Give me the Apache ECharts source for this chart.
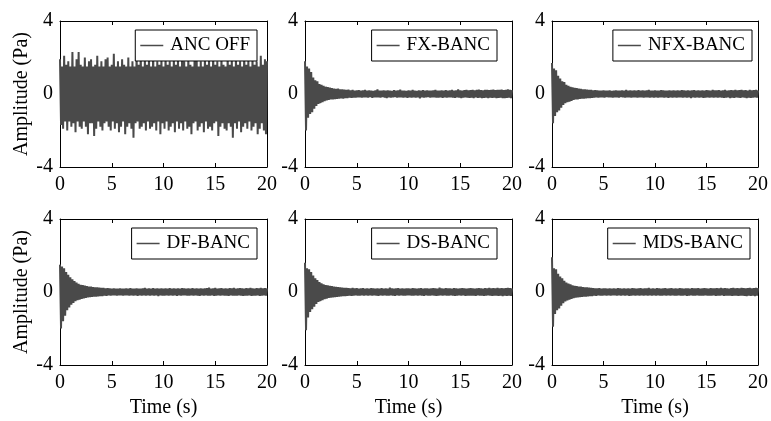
<!DOCTYPE html>
<html><head><meta charset="utf-8">
<script src="https://cdn.jsdelivr.net/npm/echarts@6/dist/echarts.min.js"></script>
<style>html,body{margin:0;padding:0;background:#fff}#c{width:771px;height:421px}</style>
</head><body><div id="c"></div>
<script>
// ---- data ----
const time = [
0,0.1,0.2,0.3,0.4,0.5,0.6,0.7,0.8,0.9,1,1.1,1.2,1.3,1.4,1.5,1.6,1.7,1.8,1.9,
2,2.1,2.2,2.3,2.4,2.5,2.6,2.7,2.8,2.9,3,3.1,3.2,3.3,3.4,3.5,3.6,3.7,3.8,3.9,
4,4.1,4.2,4.3,4.4,4.5,4.6,4.7,4.8,4.9,5,5.1,5.2,5.3,5.4,5.5,5.6,5.7,5.8,5.9,
6,6.1,6.2,6.3,6.4,6.5,6.6,6.7,6.8,6.9,7,7.1,7.2,7.3,7.4,7.5,7.6,7.7,7.8,7.9,
8,8.1,8.2,8.3,8.4,8.5,8.6,8.7,8.8,8.9,9,9.1,9.2,9.3,9.4,9.5,9.6,9.7,9.8,9.9,
10,10.1,10.2,10.3,10.4,10.5,10.6,10.7,10.8,10.9,11,11.1,11.2,11.3,11.4,11.5,11.6,11.7,11.8,11.9,
12,12.1,12.2,12.3,12.4,12.5,12.6,12.7,12.8,12.9,13,13.1,13.2,13.3,13.4,13.5,13.6,13.7,13.8,13.9,
14,14.1,14.2,14.3,14.4,14.5,14.6,14.7,14.8,14.9,15,15.1,15.2,15.3,15.4,15.5,15.6,15.7,15.8,15.9,
16,16.1,16.2,16.3,16.4,16.5,16.6,16.7,16.8,16.9,17,17.1,17.2,17.3,17.4,17.5,17.6,17.7,17.8,17.9,
18,18.1,18.2,18.3,18.4,18.5,18.6,18.7,18.8,18.9,19,19.1,19.2,19.3,19.4,19.5,19.6,19.7,19.8,19.9,
20];

const ancOff = [
1.9,-1.7,1.5,-1.9,2.1,-1.5,1.6,-2.0,1.8,-1.5,1.5,-1.8,2.3,-1.6,1.5,-2.1,1.9,-1.5,2.3,-1.8,
1.6,-1.9,1.5,-1.5,2.0,-1.8,1.5,-2.2,1.8,-1.6,1.9,-1.6,1.5,-2.3,1.6,-1.9,2.1,-1.5,1.5,-1.8,
1.8,-2.0,1.5,-1.6,1.9,-1.5,2.0,-1.8,1.5,-2.0,1.6,-1.5,2.2,-1.9,1.5,-1.6,1.8,-2.1,1.5,-1.8,
1.9,-1.5,1.6,-2.2,1.5,-1.8,2.0,-1.6,1.5,-1.9,1.8,-2.4,1.5,-1.6,2.1,-1.5,1.6,-1.9,2.2,-1.8,
1.5,-1.6,1.9,-2.0,1.6,-1.5,2.0,-1.9,1.5,-1.8,2.3,-1.6,1.5,-2.0,1.8,-1.5,1.6,-2.2,1.9,-1.6,
1.5,-1.9,2.1,-1.5,1.6,-2.0,1.8,-1.8,1.5,-1.6,2.0,-2.1,1.6,-1.5,1.9,-1.9,1.5,-1.6,2.2,-2.0,
1.8,-1.5,1.5,-1.9,2.0,-1.8,1.6,-2.2,1.5,-1.6,1.9,-1.5,2.1,-2.0,1.5,-1.8,1.8,-1.6,1.5,-2.1,
2.0,-1.5,1.6,-1.9,1.9,-1.8,1.5,-2.0,2.2,-1.6,1.6,-1.5,1.8,-2.3,1.5,-1.8,2.0,-1.6,1.6,-1.9,
1.5,-2.0,2.1,-1.6,1.6,-1.8,1.9,-2.4,1.5,-1.6,2.0,-1.9,1.6,-1.5,1.8,-2.1,1.5,-1.8,2.2,-1.6,
1.6,-1.9,1.9,-1.5,1.5,-2.0,2.0,-1.8,1.6,-1.6,1.8,-2.2,1.5,-1.9,2.1,-1.6,1.6,-2.0,1.9,-2.2,
1.8];

const fxBanc = [
1.8,-2.0,1.5,-1.3,1.4,-1.1,1.2,-1.0,0.9,-0.8,0.75,-0.65,0.7,-0.55,0.55,-0.5,0.5,-0.45,0.45,-0.4,
0.4,-0.35,0.38,-0.33,0.35,-0.3,0.32,-0.3,0.3,-0.28,0.28,-0.27,0.3,-0.25,0.26,-0.24,0.25,-0.25,0.24,-0.22,
0.22,-0.22,0.24,-0.2,0.2,-0.21,0.22,-0.2,0.19,-0.2,0.2,-0.19,0.21,-0.18,0.18,-0.2,0.2,-0.18,0.22,-0.19,
0.18,-0.2,0.2,-0.17,0.19,-0.21,0.17,-0.18,0.2,-0.19,0.26,-0.18,0.18,-0.2,0.19,-0.17,0.2,-0.2,0.18,-0.22,
0.2,-0.18,0.19,-0.2,0.17,-0.19,0.21,-0.17,0.18,-0.2,0.2,-0.18,0.24,-0.19,0.18,-0.2,0.19,-0.18,0.17,-0.21,
0.2,-0.19,0.18,-0.2,0.22,-0.18,0.19,-0.2,0.17,-0.19,0.2,-0.24,0.19,-0.18,0.21,-0.2,0.18,-0.19,0.2,-0.17,
0.19,-0.2,0.18,-0.19,0.2,-0.18,0.22,-0.2,0.18,-0.2,0.19,-0.19,0.2,-0.21,0.18,-0.18,0.21,-0.2,0.19,-0.19,
0.2,-0.18,0.22,-0.2,0.19,-0.21,0.2,-0.19,0.25,-0.2,0.2,-0.22,0.19,-0.2,0.21,-0.19,0.22,-0.2,0.2,-0.21,
0.21,-0.2,0.23,-0.22,0.2,-0.19,0.22,-0.21,0.24,-0.2,0.21,-0.22,0.2,-0.21,0.23,-0.2,0.22,-0.23,0.21,-0.2,
0.22,-0.21,0.24,-0.2,0.21,-0.22,0.23,-0.21,0.22,-0.2,0.24,-0.22,0.21,-0.23,0.22,-0.21,0.25,-0.2,0.22,-0.22,
0.21];

const nfxBanc = [
1.7,-1.6,1.4,-1.2,1.3,-1.0,1.0,-0.9,0.85,-0.75,0.7,-0.6,0.65,-0.5,0.5,-0.45,0.45,-0.42,0.4,-0.38,
0.36,-0.33,0.34,-0.3,0.32,-0.3,0.3,-0.27,0.28,-0.26,0.26,-0.25,0.25,-0.24,0.24,-0.22,0.23,-0.22,0.22,-0.21,
0.2,-0.2,0.21,-0.19,0.2,-0.2,0.18,-0.19,0.19,-0.18,0.2,-0.2,0.18,-0.17,0.19,-0.19,0.2,-0.18,0.17,-0.2,
0.19,-0.18,0.2,-0.19,0.18,-0.2,0.19,-0.17,0.2,-0.19,0.18,-0.2,0.22,-0.18,0.19,-0.19,0.2,-0.2,0.18,-0.18,
0.2,-0.19,0.19,-0.2,0.21,-0.18,0.18,-0.19,0.2,-0.2,0.19,-0.18,0.2,-0.19,0.22,-0.2,0.18,-0.19,0.19,-0.2,
0.2,-0.18,0.18,-0.2,0.19,-0.19,0.21,-0.18,0.2,-0.2,0.18,-0.19,0.19,-0.21,0.2,-0.18,0.19,-0.2,0.2,-0.19,
0.18,-0.2,0.2,-0.19,0.19,-0.18,0.21,-0.2,0.2,-0.19,0.18,-0.2,0.2,-0.18,0.19,-0.22,0.2,-0.19,0.21,-0.2,
0.19,-0.18,0.2,-0.2,0.18,-0.19,0.2,-0.21,0.19,-0.2,0.21,-0.19,0.2,-0.2,0.19,-0.18,0.22,-0.2,0.2,-0.19,
0.2,-0.2,0.21,-0.19,0.19,-0.2,0.2,-0.21,0.22,-0.2,0.19,-0.19,0.2,-0.22,0.21,-0.2,0.2,-0.21,0.22,-0.19,
0.2,-0.2,0.21,-0.21,0.22,-0.19,0.2,-0.2,0.21,-0.22,0.19,-0.2,0.22,-0.21,0.2,-0.2,0.21,-0.19,0.22,-0.2,
0.2];

const dfBanc = [
1.5,-2.0,1.4,-1.6,1.3,-1.3,1.1,-1.0,0.95,-0.85,0.8,-0.7,0.7,-0.6,0.6,-0.5,0.52,-0.45,0.45,-0.42,
0.4,-0.38,0.38,-0.35,0.35,-0.32,0.33,-0.3,0.3,-0.28,0.3,-0.27,0.27,-0.26,0.26,-0.25,0.25,-0.24,0.24,-0.23,
0.22,-0.22,0.23,-0.2,0.2,-0.21,0.21,-0.19,0.2,-0.2,0.19,-0.19,0.2,-0.18,0.19,-0.2,0.18,-0.19,0.2,-0.18,
0.19,-0.2,0.18,-0.19,0.2,-0.18,0.19,-0.2,0.21,-0.19,0.18,-0.2,0.19,-0.18,0.2,-0.21,0.19,-0.19,0.18,-0.2,
0.2,-0.19,0.22,-0.2,0.19,-0.18,0.2,-0.2,0.18,-0.19,0.21,-0.2,0.19,-0.18,0.2,-0.22,0.18,-0.19,0.2,-0.2,
0.19,-0.2,0.2,-0.18,0.18,-0.2,0.21,-0.19,0.19,-0.2,0.2,-0.18,0.18,-0.21,0.2,-0.19,0.19,-0.2,0.21,-0.18,
0.2,-0.19,0.18,-0.2,0.2,-0.2,0.19,-0.18,0.21,-0.2,0.18,-0.19,0.2,-0.2,0.19,-0.21,0.2,-0.18,0.18,-0.2,
0.2,-0.19,0.21,-0.2,0.24,-0.2,0.19,-0.19,0.2,-0.21,0.22,-0.2,0.19,-0.18,0.2,-0.2,0.21,-0.19,0.19,-0.2,
0.2,-0.2,0.19,-0.21,0.21,-0.19,0.2,-0.2,0.22,-0.2,0.19,-0.2,0.2,-0.19,0.21,-0.2,0.2,-0.21,0.19,-0.2,
0.21,-0.2,0.2,-0.19,0.22,-0.21,0.2,-0.2,0.19,-0.2,0.21,-0.19,0.2,-0.21,0.22,-0.2,0.2,-0.19,0.21,-0.2,
0.2];

const dsBanc = [
1.6,-2.1,1.3,-1.4,1.25,-1.1,1.1,-0.95,0.9,-0.8,0.75,-0.65,0.65,-0.55,0.55,-0.5,0.48,-0.45,0.42,-0.4,
0.38,-0.36,0.36,-0.33,0.34,-0.31,0.32,-0.3,0.3,-0.28,0.28,-0.27,0.27,-0.26,0.26,-0.24,0.24,-0.23,0.23,-0.22,
0.22,-0.21,0.21,-0.2,0.2,-0.21,0.22,-0.2,0.2,-0.19,0.21,-0.2,0.19,-0.2,0.2,-0.19,0.21,-0.2,0.19,-0.19,
0.2,-0.2,0.19,-0.19,0.21,-0.2,0.2,-0.18,0.19,-0.2,0.2,-0.21,0.19,-0.19,0.21,-0.2,0.18,-0.19,0.2,-0.2,
0.19,-0.2,0.24,-0.19,0.2,-0.2,0.19,-0.21,0.2,-0.19,0.21,-0.2,0.19,-0.19,0.2,-0.2,0.18,-0.2,0.2,-0.19,
0.2,-0.19,0.19,-0.2,0.21,-0.2,0.2,-0.19,0.19,-0.2,0.2,-0.19,0.21,-0.2,0.19,-0.21,0.2,-0.19,0.2,-0.2,
0.19,-0.2,0.2,-0.19,0.21,-0.2,0.2,-0.21,0.19,-0.2,0.24,-0.19,0.2,-0.2,0.19,-0.19,0.21,-0.2,0.2,-0.2,
0.2,-0.19,0.19,-0.2,0.21,-0.21,0.2,-0.2,0.19,-0.19,0.2,-0.2,0.21,-0.19,0.2,-0.21,0.19,-0.2,0.2,-0.2,
0.21,-0.2,0.2,-0.2,0.19,-0.21,0.2,-0.19,0.21,-0.2,0.2,-0.2,0.19,-0.21,0.21,-0.2,0.2,-0.19,0.22,-0.2,
0.2,-0.21,0.21,-0.2,0.2,-0.2,0.22,-0.21,0.2,-0.2,0.21,-0.22,0.2,-0.2,0.21,-0.21,0.22,-0.2,0.21,-0.21,
0.2];

const mdsBanc = [
1.9,-1.9,1.3,-1.2,1.25,-1.0,1.0,-0.9,0.85,-0.75,0.75,-0.62,0.62,-0.52,0.52,-0.46,0.46,-0.42,0.42,-0.38,
0.36,-0.34,0.34,-0.31,0.32,-0.3,0.3,-0.28,0.29,-0.27,0.27,-0.26,0.26,-0.25,0.25,-0.24,0.24,-0.22,0.23,-0.22,
0.21,-0.2,0.2,-0.21,0.2,-0.19,0.21,-0.2,0.19,-0.2,0.2,-0.19,0.2,-0.2,0.18,-0.19,0.2,-0.2,0.19,-0.18,
0.2,-0.19,0.19,-0.2,0.21,-0.19,0.2,-0.2,0.19,-0.18,0.2,-0.2,0.19,-0.19,0.2,-0.21,0.19,-0.2,0.21,-0.19,
0.2,-0.2,0.19,-0.19,0.2,-0.2,0.21,-0.19,0.19,-0.2,0.2,-0.19,0.2,-0.2,0.22,-0.19,0.19,-0.2,0.2,-0.19,
0.19,-0.2,0.21,-0.19,0.2,-0.2,0.19,-0.2,0.2,-0.19,0.21,-0.2,0.19,-0.19,0.2,-0.2,0.21,-0.19,0.19,-0.2,
0.2,-0.2,0.19,-0.19,0.21,-0.2,0.2,-0.2,0.19,-0.19,0.2,-0.21,0.2,-0.2,0.19,-0.19,0.21,-0.2,0.2,-0.2,
0.2,-0.19,0.21,-0.2,0.19,-0.2,0.2,-0.2,0.21,-0.19,0.2,-0.2,0.19,-0.2,0.21,-0.2,0.2,-0.19,0.2,-0.21,
0.21,-0.2,0.2,-0.2,0.22,-0.19,0.2,-0.21,0.21,-0.2,0.2,-0.2,0.19,-0.2,0.21,-0.21,0.22,-0.2,0.2,-0.2,
0.21,-0.21,0.2,-0.2,0.22,-0.2,0.21,-0.21,0.2,-0.22,0.21,-0.2,0.22,-0.21,0.2,-0.2,0.21,-0.22,0.22,-0.2,
0.21];

const seriesNames = ['ANC OFF', 'FX-BANC', 'NFX-BANC', 'DF-BANC', 'DS-BANC', 'MDS-BANC'];
const seriesValues = [ancOff, fxBanc, nfxBanc, dfBanc, dsBanc, mdsBanc];
const xTicks = [0, 5, 10, 15, 20];
const yTicks = [-4, 0, 4];
const xTitle = 'Time (s)';
const yTitle = 'Amplitude (Pa)';

// ---- layout / style ----
const FONT = 'Liberation Serif, Times New Roman, serif';
const LINE_COLOR = '#4a4a4a';
const gridPos = [[60, 21], [305, 21], [552, 21], [60, 219], [305, 219], [552, 219]];
const GW = 207, GH = 146;
const legendPos = [[514, 30], [274, 30], [19, 30], [514, 228], [274, 228], [21, 228]];

const grids = [], xAxes = [], yAxes = [], series = [], legends = [];
const xInterval = xTicks[1] - xTicks[0];
const yInterval = yTicks[1] - yTicks[0];
const axisLine = { show: true, onZero: false, lineStyle: { color: '#000', width: 1 } };
const tick = { show: true, inside: true, length: 4, lineStyle: { color: '#000' } };
const lbl = { color: '#000', fontFamily: FONT, fontSize: 20 };

seriesNames.forEach((name, i) => {
  const [l, t] = gridPos[i];
  grids.push({ left: l, top: t, width: GW, height: GH, containLabel: false });
  const bottomRow = i >= 3, leftCol = i % 3 === 0;
  const xb = {
    type: 'value', gridIndex: i, position: 'bottom',
    min: xTicks[0], max: xTicks[xTicks.length - 1], interval: xInterval,
    axisLine, axisTick: tick, splitLine: { show: false },
    axisLabel: Object.assign({ margin: 8 }, lbl)
  };
  if (bottomRow) {
    Object.assign(xb, { name: xTitle, nameLocation: 'middle', nameGap: 33,
      nameTextStyle: { color: '#000', fontFamily: FONT, fontSize: 20 } });
  }
  xAxes.push(xb);
  xAxes.push({
    type: 'value', gridIndex: i, position: 'top',
    min: xTicks[0], max: xTicks[xTicks.length - 1], interval: xInterval,
    axisLine, axisTick: tick, splitLine: { show: false }, axisLabel: { show: false }
  });
  const yl = {
    type: 'value', gridIndex: i, position: 'left',
    min: yTicks[0], max: yTicks[yTicks.length - 1], interval: yInterval,
    axisLine, axisTick: tick, splitLine: { show: false },
    axisLabel: Object.assign({ margin: 7 }, lbl)
  };
  if (leftCol) {
    Object.assign(yl, { name: yTitle, nameLocation: 'middle', nameGap: 28, nameRotate: 90,
      nameTextStyle: { color: '#000', fontFamily: FONT, fontSize: 20 } });
  }
  yAxes.push(yl);
  yAxes.push({
    type: 'value', gridIndex: i, position: 'right',
    min: yTicks[0], max: yTicks[yTicks.length - 1], interval: yInterval,
    axisLine, axisTick: tick, splitLine: { show: false }, axisLabel: { show: false }
  });
  series.push({
    name, type: 'line', xAxisIndex: 2 * i, yAxisIndex: 2 * i,
    data: time.map((tt, k) => [tt, seriesValues[i][k]]),
    showSymbol: false, symbol: 'none', sampling: null, clip: true,
    lineStyle: { color: LINE_COLOR, width: 2, join: 'miter', miterLimit: 2 },
    itemStyle: { color: LINE_COLOR },
    emphasis: { disabled: true }, silent: true
  });
  legends.push({
    data: [name], right: legendPos[i][0], top: legendPos[i][1],
    orient: 'horizontal', selectedMode: false,
    backgroundColor: '#fff', borderColor: '#000', borderWidth: 1,
    padding: [6, 7, 6, 5], icon: 'rect', itemWidth: 23, itemHeight: 1.5, itemGap: 7,
    textStyle: { color: '#000', fontFamily: FONT, fontSize: 19, padding: [0, 0, 0, 2] }
  });
});

const chart = echarts.init(document.getElementById('c'), null, { renderer: 'canvas' });
chart.setOption({
  animation: false,
  backgroundColor: '#fff',
  grid: grids, xAxis: xAxes, yAxis: yAxes, series, legend: legends
});
</script>
</body></html>
